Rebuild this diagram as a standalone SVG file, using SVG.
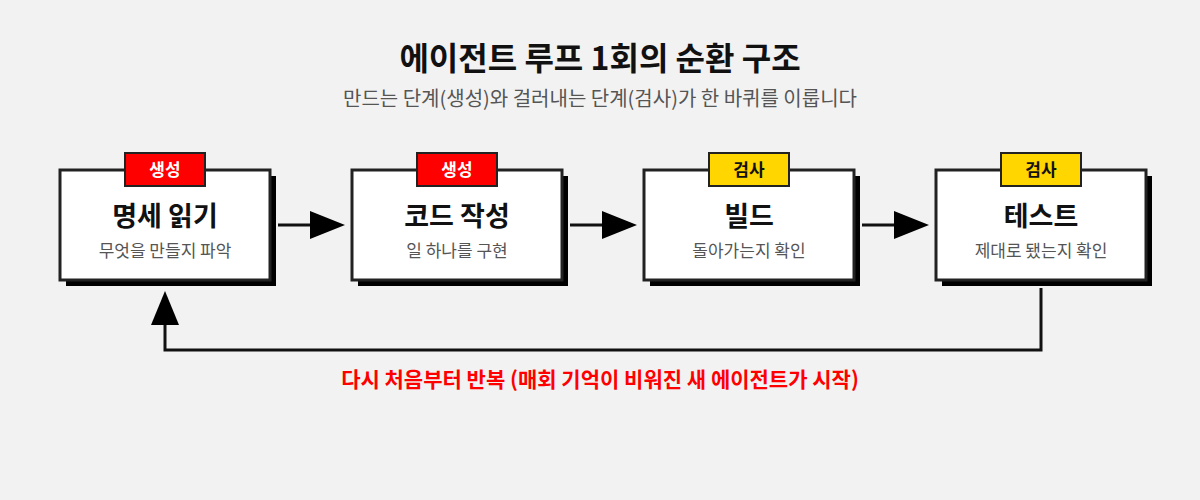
<svg xmlns="http://www.w3.org/2000/svg" width="1200" height="500" viewBox="0 0 1200 500">
<defs>
<style>
text{font-family:"Noto Sans CJK KR","Noto Sans",sans-serif;text-anchor:middle}
.shadow{fill:#000}
.box{fill:#fff;stroke:#222;stroke-width:3}
.tag{stroke:#222;stroke-width:2}
.gen{fill:#ff0000}
.chk{fill:#ffd600}
.tagt{font-size:17px;font-weight:700}
.title{font-size:27px;font-weight:700;fill:#111}
.sub{font-size:17px;fill:#555}
.conn{fill:none;stroke:#111;stroke-width:3}
</style>
</defs>
<rect width="1200" height="500" fill="#f2f2f2"/>
<text x="600" y="70" style="font-size:32px;font-weight:700;fill:#111">에이전트 루프 1회의 순환 구조</text>
<text x="600" y="106" style="font-size:20px;fill:#555">만드는 단계(생성)와 걸러내는 단계(검사)가 한 바퀴를 이룹니다</text>

<g id="node-1">
<rect class="shadow" x="66" y="176" width="210" height="110"/>
<rect class="box" x="60" y="170" width="210" height="110"/>
<rect class="tag gen" x="125" y="153" width="80" height="33"/>
<text class="tagt" x="165" y="176" fill="#fff">생성</text>
<text class="title" x="165" y="226">명세 읽기</text>
<text class="sub" x="165" y="257">무엇을 만들지 파악</text>
</g>
<g id="node-2">
<rect class="shadow" x="358" y="176" width="210" height="110"/>
<rect class="box" x="352" y="170" width="210" height="110"/>
<rect class="tag gen" x="417" y="153" width="80" height="33"/>
<text class="tagt" x="457" y="176" fill="#fff">생성</text>
<text class="title" x="457" y="226">코드 작성</text>
<text class="sub" x="457" y="257">일 하나를 구현</text>
</g>
<g id="node-3">
<rect class="shadow" x="650" y="176" width="210" height="110"/>
<rect class="box" x="644" y="170" width="210" height="110"/>
<rect class="tag chk" x="709" y="153" width="80" height="33"/>
<text class="tagt" x="749" y="176" fill="#111">검사</text>
<text class="title" x="749" y="226">빌드</text>
<text class="sub" x="749" y="257">돌아가는지 확인</text>
</g>
<g id="node-4">
<rect class="shadow" x="942" y="176" width="210" height="110"/>
<rect class="box" x="936" y="170" width="210" height="110"/>
<rect class="tag chk" x="1001" y="153" width="80" height="33"/>
<text class="tagt" x="1041" y="176" fill="#111">검사</text>
<text class="title" x="1041" y="226">테스트</text>
<text class="sub" x="1041" y="257">제대로 됐는지 확인</text>
</g>

<g id="connectors">
<line class="conn" x1="278" y1="225" x2="312" y2="225"/>
<path d="M310,211 L345,225 L310,239 z" fill="#000"/>
<line class="conn" x1="570" y1="225" x2="604" y2="225"/>
<path d="M602,211 L637,225 L602,239 z" fill="#000"/>
<line class="conn" x1="862" y1="225" x2="896" y2="225"/>
<path d="M894,211 L929,225 L894,239 z" fill="#000"/>
<polyline class="conn" points="1041,288 1041,350 165,350 165,323"/>
<path d="M151,325 L165,291 L179,325 z" fill="#000"/>
</g>
<text x="600" y="387" style="font-size:21px;font-weight:700;fill:#ff0000">다시 처음부터 반복 (매회 기억이 비워진 새 에이전트가 시작)</text>
</svg>
